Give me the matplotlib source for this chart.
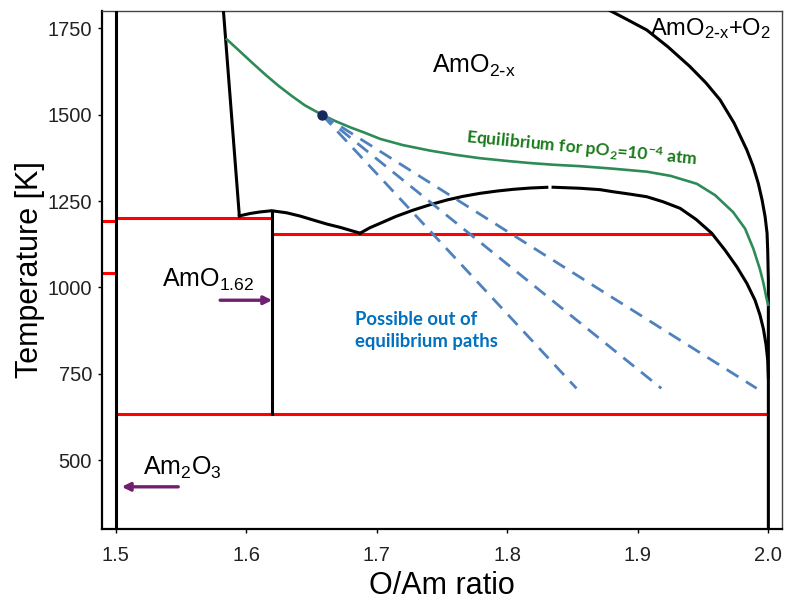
import matplotlib
matplotlib.use("Agg")
import matplotlib.pyplot as plt

# Am-O phase diagram near the AmO2 side
x_lim = (1.4894, 2.0107)
t_lim = (300, 1801)

# red isotherms
red_x = [[1.4894, 1.5], [1.4894, 1.5], [1.5, 1.62], [1.62, 1.9566], [1.5, 2.0]]
red_t = [[1192, 1192], [1043, 1043], [1201, 1201], [1156, 1156], [633, 633]]

# black phase boundaries
am2o3_x = [1.5, 1.5]
am2o3_t = [300, 1801]

amo162_x = [1.62, 1.62]
amo162_t = [633, 1222]

left_x = [1.5826, 1.5948]
left_t = [1801, 1207]

bump_x = [1.5948, 1.6030, 1.6107, 1.6196, 1.6311, 1.6413, 1.6515, 1.6618, 1.6720, 1.6873]
bump_t = [1207, 1214, 1218.5, 1222, 1216, 1206.6, 1195, 1183.5, 1173.9, 1157]

rise_x = [1.6873, 1.6949, 1.7026, 1.7149, 1.7281, 1.7409, 1.7537, 1.7662,
          1.7792, 1.7922, 1.8047, 1.8175, 1.8303]
rise_t = [1157, 1173, 1185.5, 1205.8, 1224, 1239.4, 1253, 1263.7,
          1272.4, 1279, 1284, 1287.7, 1289.8]

fall_x = [1.8351, 1.8558, 1.8711, 1.8810, 1.8941, 1.9069, 1.9193, 1.9324,
          1.9446, 1.9566, 1.9668, 1.9758, 1.9835, 1.9898, 1.9936, 1.9962,
          1.9982, 1.9995, 2.0]
fall_t = [1290, 1287, 1283, 1277, 1270, 1262.5, 1248, 1229,
          1197, 1157, 1108, 1060, 1012, 963, 920, 880,
          835, 790, 740]

outer_x = [1.8788, 1.8925, 1.9069, 1.9232, 1.9400, 1.9522, 1.9630, 1.9737,
           1.9835, 1.9883, 1.9923, 1.9952, 1.9975, 1.9990, 1.9995, 2.0, 2.0]
outer_t = [1801, 1774, 1745, 1696, 1639, 1592, 1543, 1476,
           1398, 1351, 1301, 1253, 1205, 1157, 1108, 1021, 300]

# equilibrium curve for pO2 = 1e-4 atm
eq_x = [1.5852, 1.595, 1.605, 1.615, 1.625, 1.635, 1.645, 1.658,
        1.668, 1.680, 1.690, 1.7026, 1.720, 1.7409, 1.760, 1.7792,
        1.800, 1.8175, 1.8358, 1.8558, 1.880, 1.9069, 1.925, 1.9452,
        1.9592, 1.973, 1.9822, 1.9885, 1.9936, 1.9962, 1.9985, 1.9998]
eq_t = [1718, 1684, 1649, 1615, 1583, 1554, 1527, 1500,
        1482, 1463, 1449, 1430, 1412, 1396, 1384, 1374,
        1366, 1360, 1355, 1351, 1344, 1335, 1323, 1300,
        1267, 1218, 1170, 1112, 1052, 1013, 970, 950]

# starting point and out of equilibrium paths
start = (1.658, 1500)
path_end_x = [1.853, 1.918, 1.991]
path_end_t = [708, 708, 708]

plt.rcParams["font.family"] = ["Liberation Sans", "DejaVu Sans"]
plt.rcParams["mathtext.default"] = "regular"

fig = plt.figure(figsize=(7.85, 6.03), dpi=100)
ax = fig.add_axes([0.1296, 0.1222, 0.8670, 0.8601])

for xs, ts in zip(red_x, red_t):
    ax.plot(xs, ts, color="#ff0000", lw=2.2, solid_capstyle="butt", zorder=2)

black = dict(color="black", lw=2.2, zorder=3, solid_joinstyle="round")
ax.plot(am2o3_x, am2o3_t, **black)
ax.plot(amo162_x, amo162_t, **black)
ax.plot(left_x, left_t, **black)
ax.plot(bump_x, bump_t, **black)
ax.plot(rise_x, rise_t, **black)
ax.plot(fall_x, fall_t, **black)
ax.plot(outer_x, outer_t, **black)

ax.plot(eq_x, eq_t, color="#2e8b57", lw=1.9, zorder=4, solid_joinstyle="round")

for xe, te in zip(path_end_x, path_end_t):
    ax.plot([start[0], xe], [start[1], te], color="#4f81bd", lw=2.0,
            dashes=(5, 3.2), zorder=4)
ax.plot(*start, "o", color="#142a5c", ms=6.5, zorder=5)

# arrows
arrow = dict(arrowstyle="-|>", color="#70206f", lw=2.4, mutation_scale=12,
             shrinkA=0, shrinkB=0)
ax.annotate("", xy=(1.62, 963), xytext=(1.5801, 963), arrowprops=arrow)
ax.annotate("", xy=(1.5047, 423), xytext=(1.548, 423), arrowprops=arrow)

# labels
ax.text(1.742, 1620, r"AmO$_{2\text{-}x}$", fontsize=18, ha="left", va="baseline")
ax.text(1.9094, 1731, r"AmO$_{2\text{-}x}$+O$_2$", fontsize=17, ha="left", va="baseline")
ax.text(1.5354, 1002, r"AmO$_{1.62}$", fontsize=18, ha="left", va="baseline")
ax.text(1.5213, 457, r"Am$_2$O$_3$", fontsize=18, ha="left", va="baseline")

ax.text(1.7677, 1417, r"Equilibrium for pO$_2$=10$^{-4}$ atm", family=["Lato", "DejaVu Sans"],
        fontsize=12.6, fontweight="bold", color="#1b7a1b", rotation=-5.5,
        rotation_mode="anchor", ha="left", va="baseline")
ax.text(1.6835, 828, "Possible out of\nequilibrium paths", family=["Lato", "DejaVu Sans"],
        fontsize=13.3, fontweight="bold", color="#0070c0", ha="left", va="baseline",
        linespacing=1.35)

ax.set_xlim(*x_lim)
ax.set_ylim(*t_lim)
ax.set_xticks([1.5, 1.6, 1.7, 1.8, 1.9, 2.0])
ax.set_xticklabels(["1.5", "1.6", "1.7", "1.8", "1.9", "2.0"])
ax.set_yticks([500, 750, 1000, 1250, 1500, 1750])

ax.tick_params(axis="x", direction="out", length=3, width=1, labelsize=14.5,
               labelcolor="#222222", pad=9)
ax.tick_params(axis="y", direction="out", length=3, width=1, labelsize=14.5,
               labelcolor="#222222", pad=4)

for side in ["left", "bottom"]:
    ax.spines[side].set_linewidth(1.6)
    ax.spines[side].set_color("black")
for side in ["top", "right"]:
    ax.spines[side].set_linewidth(1.0)
    ax.spines[side].set_color("#444444")

ax.set_xlabel("O/Am ratio", fontsize=22, labelpad=4)
ax.set_ylabel("Temperature [K]", fontsize=22, labelpad=2)

fig.savefig("out.png", dpi=100)
